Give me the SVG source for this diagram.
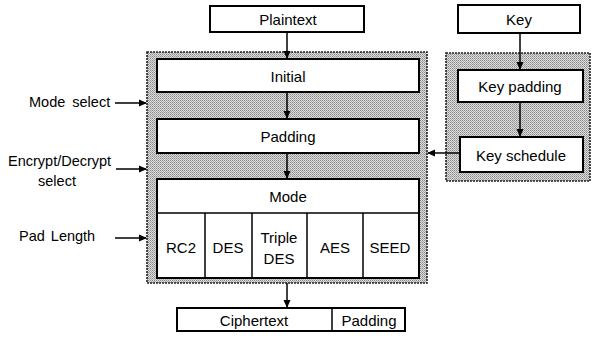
<svg xmlns="http://www.w3.org/2000/svg" width="593" height="338" viewBox="0 0 593 338">
<defs>
<pattern id="dith" width="2" height="2" patternUnits="userSpaceOnUse">
<rect width="2" height="2" fill="#dcdcdc"/>
<rect width="1" height="1" fill="#8a8a8a"/>
<rect x="1" y="1" width="1" height="1" fill="#a8a8a8"/>
</pattern>
<marker id="ah" markerWidth="8" markerHeight="8" refX="7" refY="4" orient="auto" markerUnits="userSpaceOnUse">
<path d="M0,0.5 L8,4 L0,7.5 Z" fill="#000"/>
</marker>
<style>
.grp{fill:url(#dith);stroke:#222;stroke-width:1.6;stroke-dasharray:2 1}
.box{fill:#fff;stroke:#000;stroke-width:2}
.cell{fill:none;stroke:#000;stroke-width:1.5}
.t{font-family:"Liberation Sans",Arial,sans-serif;font-size:15px;fill:#000;text-anchor:middle;dominant-baseline:central}
.l{font-family:"Liberation Sans",Arial,sans-serif;font-size:14.5px;fill:#000;dominant-baseline:central}
.lc{font-family:"Liberation Sans",Arial,sans-serif;font-size:14.5px;fill:#000;text-anchor:middle;dominant-baseline:central}
.c{stroke:#000;stroke-width:1.5;fill:none;marker-end:url(#ah)}
</style>
</defs>
<rect id="mainGroup" class="grp" x="147" y="52" width="280" height="231"/>
<rect id="keyGroup" class="grp" x="446" y="53" width="144" height="128"/>

<g id="plaintext"><rect class="box" x="210" y="6" width="154" height="26"/><text class="t" x="288" y="19">Plaintext</text></g>
<g id="key"><rect class="box" x="458" y="5" width="122" height="28"/><text class="t" x="519" y="19">Key</text></g>
<g id="initial"><rect class="box" x="157" y="59" width="262" height="33"/><text class="t" x="288" y="76">Initial</text></g>
<g id="padding"><rect class="box" x="157" y="119" width="262" height="34"/><text class="t" x="288" y="136">Padding</text></g>
<g id="mode"><rect class="box" x="157" y="179" width="262" height="99"/><line class="cell" x1="157" y1="213" x2="419" y2="213"/><text class="t" x="288" y="196">Mode</text></g>
<g id="rc2"><line class="cell" x1="205" y1="213" x2="205" y2="278"/><text class="t" x="181" y="247">RC2</text></g>
<g id="des"><line class="cell" x1="252" y1="213" x2="252" y2="278"/><text class="t" x="228" y="247">DES</text></g>
<g id="tdes"><line class="cell" x1="307" y1="213" x2="307" y2="278"/><text class="t" x="279" y="237">Triple</text><text class="t" x="279" y="258">DES</text></g>
<g id="aes"><line class="cell" x1="363" y1="213" x2="363" y2="278"/><text class="t" x="335" y="247">AES</text></g>
<g id="seed"><text class="t" x="390" y="247">SEED</text></g>
<g id="keypadding"><rect class="box" x="458" y="70" width="125" height="32"/><text class="t" x="520" y="86">Key padding</text></g>
<g id="keyschedule"><rect class="box" x="460" y="137" width="123" height="35"/><text class="t" x="521" y="155">Key schedule</text></g>
<g id="ciphertext"><rect class="box" x="177" y="308" width="228" height="23"/><line class="cell" x1="332" y1="308" x2="332" y2="331"/><text class="t" x="254" y="320">Ciphertext</text><text class="t" x="369" y="320">Padding</text></g>
<g id="labels">
<text class="l" x="29" y="102" word-spacing="3">Mode select</text>
<text class="l" x="8" y="161">Encrypt/Decrypt</text>
<text class="lc" x="57" y="181">select</text>
<text class="l" x="19" y="236" word-spacing="2">Pad Length</text>
</g>
<g id="connectors">
<line class="c" x1="287" y1="32" x2="287" y2="58"/>
<line class="c" x1="287" y1="92" x2="287" y2="118"/>
<line class="c" x1="287" y1="153" x2="287" y2="178"/>
<line class="c" x1="287" y1="283" x2="287" y2="307"/>
<line class="c" x1="520" y1="33" x2="520" y2="69"/>
<line class="c" x1="520" y1="102" x2="520" y2="136"/>
<line class="c" x1="459" y1="153" x2="428" y2="153"/>
<line class="c" x1="115" y1="103" x2="146" y2="103"/>
<line class="c" x1="116" y1="169" x2="146" y2="169"/>
<line class="c" x1="115" y1="238" x2="146" y2="238"/>
</g>
</svg>
